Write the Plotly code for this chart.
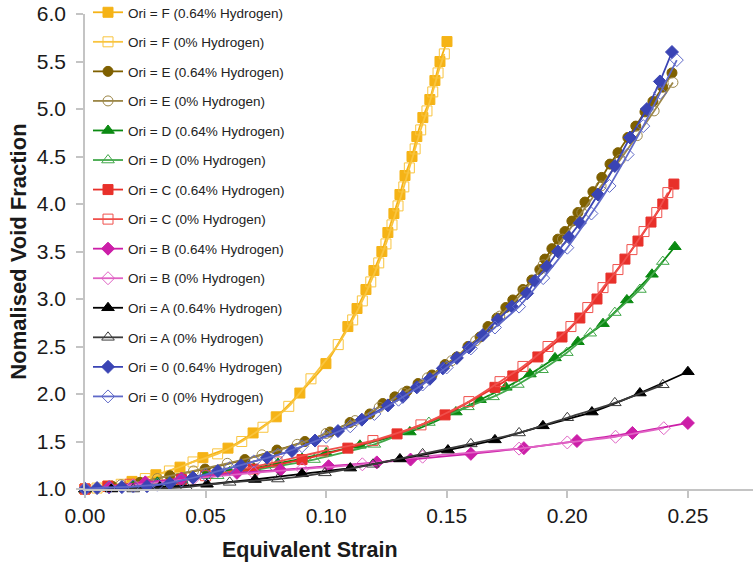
import plotly.graph_objects as go

# ---- data: equivalent strain vs normalised void fraction ----
f_h_x = [0, 0.0095, 0.0195, 0.0294, 0.0394, 0.0489, 0.0593, 0.0697, 0.0793, 0.0891, 0.0999, 0.109,
         0.1128, 0.1165, 0.1198, 0.1231, 0.1256, 0.1281, 0.1306, 0.1327, 0.1356, 0.1376, 0.1401,
         0.143, 0.1451, 0.1472, 0.1501]
f_h_y = [1.0, 1.03, 1.08, 1.15, 1.23, 1.33, 1.43, 1.59, 1.76, 2.01, 2.32, 2.71,
         2.9, 3.1, 3.3, 3.5, 3.7, 3.9, 4.1, 4.3, 4.5, 4.71, 4.91, 5.1, 5.3, 5.5, 5.71]
f_0_x = [0, 0.005, 0.015, 0.025, 0.035, 0.0448, 0.055, 0.065, 0.0738, 0.0845, 0.0937, 0.105, 0.111,
         0.115, 0.1185, 0.1218, 0.1248, 0.1273, 0.1298, 0.1322, 0.1345, 0.1369, 0.1392, 0.1418,
         0.1442, 0.1464, 0.149]
f_0_y = [1.0, 1.01, 1.05, 1.11, 1.19, 1.285, 1.37, 1.5, 1.65, 1.87, 2.16, 2.52, 2.78,
         2.98, 3.18, 3.38, 3.58, 3.78, 3.98, 4.18, 4.38, 4.58, 4.78, 4.98, 5.18, 5.38, 5.58]

e_h_x = [0, 0.0112, 0.0228, 0.0352, 0.0498, 0.0663, 0.0796, 0.0912, 0.1016, 0.1099, 0.1181, 0.1235,
         0.1285, 0.1335, 0.1381, 0.1439, 0.1493, 0.1542, 0.1588, 0.1638, 0.1671, 0.1708, 0.1745,
         0.1774, 0.1816, 0.1853, 0.1886, 0.1907, 0.1936, 0.1961, 0.199, 0.2019, 0.2044, 0.2073,
         0.2106, 0.2143, 0.2177, 0.221, 0.2251, 0.2284, 0.2322, 0.2355, 0.2396, 0.2434]
e_h_y = [1.0, 1.03, 1.07, 1.14, 1.21, 1.31, 1.41, 1.5, 1.6, 1.7, 1.79, 1.9,
         1.97, 2.03, 2.11, 2.2, 2.31, 2.39, 2.5, 2.6, 2.71, 2.8, 2.91,
         2.99, 3.1, 3.2, 3.31, 3.42, 3.53, 3.63, 3.71, 3.82, 3.91, 4.02,
         4.13, 4.28, 4.42, 4.54, 4.7, 4.82, 4.97, 5.08, 5.23, 5.38]
e_0_x = [0, 0.015, 0.03, 0.045, 0.059, 0.0734, 0.088, 0.1, 0.112, 0.122, 0.132, 0.142, 0.152,
         0.162, 0.172, 0.182, 0.19, 0.198, 0.206, 0.214, 0.222, 0.229, 0.236, 0.2438]
e_0_y = [1.0, 1.045, 1.11, 1.19, 1.27, 1.36, 1.47, 1.585, 1.72, 1.86, 2.01, 2.17, 2.35,
         2.56, 2.82, 3.08, 3.36, 3.63, 3.91, 4.19, 4.47, 4.72, 4.98, 5.28]

d_h_x = [0, 0.01, 0.02, 0.03, 0.04, 0.05, 0.06, 0.07, 0.08, 0.09, 0.1, 0.114, 0.1347, 0.1538,
         0.1638, 0.1745, 0.1845, 0.1949, 0.2044, 0.2148, 0.2247, 0.2351, 0.2446]
d_h_y = [1.0, 1.02, 1.04, 1.07, 1.1, 1.14, 1.18, 1.22, 1.27, 1.32, 1.38, 1.46, 1.6, 1.81,
         1.94, 2.07, 2.21, 2.38, 2.55, 2.74, 2.99, 3.26, 3.55]
d_0_x = [0, 0.015, 0.035, 0.055, 0.075, 0.095, 0.12, 0.1426, 0.1588, 0.1692, 0.1795, 0.1895,
         0.1998, 0.2095, 0.2197, 0.2301, 0.2396]
d_0_y = [1.0, 1.02, 1.07, 1.14, 1.22, 1.31, 1.47, 1.7, 1.865, 1.97, 2.1, 2.255,
         2.435, 2.64, 2.857, 3.1, 3.394]

c_h_x = [0, 0.0095, 0.04, 0.0697, 0.09, 0.109, 0.1294, 0.1493, 0.17, 0.1774, 0.1878, 0.1978,
         0.2052, 0.2123, 0.2181, 0.2239, 0.2293, 0.2347, 0.2396, 0.2442]
c_h_y = [1.0, 1.03, 1.1, 1.21, 1.31, 1.43, 1.58, 1.78, 2.07, 2.19, 2.39, 2.6,
         2.8, 3.0, 3.22, 3.42, 3.61, 3.81, 4.0, 4.21]
c_0_x = [0, 0.0187, 0.05, 0.0796, 0.0987, 0.1194, 0.1393, 0.1592, 0.1721, 0.1816, 0.192, 0.2015,
         0.2085, 0.2148, 0.221, 0.2268, 0.2318, 0.2371, 0.2417]
c_0_y = [1.0, 1.05, 1.14, 1.285, 1.4, 1.51, 1.675, 1.92, 2.13, 2.29, 2.5, 2.71,
         2.91, 3.12, 3.31, 3.52, 3.71, 3.91, 4.12]

b_h_x = [0, 0.01, 0.025, 0.04, 0.063, 0.081, 0.101, 0.121, 0.135, 0.16, 0.182, 0.204, 0.227, 0.25]
b_h_y = [1.0, 1.02, 1.07, 1.11, 1.17, 1.2, 1.24, 1.28, 1.31, 1.37, 1.43, 1.505, 1.59, 1.695]
b_0_x = [0, 0.02, 0.045, 0.07, 0.09, 0.115, 0.14, 0.18, 0.2, 0.22, 0.24]
b_0_y = [1.0, 1.04, 1.11, 1.17, 1.21, 1.26, 1.34, 1.425, 1.49, 1.55, 1.64]

a_h_x = [0, 0.011, 0.031, 0.0506, 0.0705, 0.09, 0.11, 0.1306, 0.1505, 0.17, 0.1899, 0.2102, 0.2301, 0.25]
a_h_y = [1.0, 1.0, 1.02, 1.05, 1.1, 1.16, 1.22, 1.316, 1.41, 1.517, 1.665, 1.81, 2.01, 2.234]
a_0_x = [0, 0.02, 0.042, 0.06, 0.08, 0.0995, 0.1194, 0.14, 0.16, 0.18, 0.2, 0.2197, 0.2396]
a_0_y = [1.0, 1.0, 1.02, 1.07, 1.105, 1.17, 1.26, 1.37, 1.475, 1.59, 1.75, 1.907, 2.097]

o_h_x = [0, 0.005, 0.0153, 0.0257, 0.0352, 0.0448, 0.0551, 0.0647, 0.0755, 0.0858, 0.0954, 0.1049,
         0.1148, 0.1256, 0.1318, 0.1376, 0.143, 0.1484, 0.1542, 0.1592, 0.165, 0.1712, 0.177,
         0.1833, 0.1866, 0.1915, 0.1961, 0.2007, 0.2052, 0.2127, 0.2197, 0.226, 0.233, 0.2384, 0.2434]
o_h_y = [1.0, 1.01, 1.02, 1.03, 1.06, 1.12, 1.19, 1.25, 1.33, 1.4, 1.51, 1.61,
         1.73, 1.88, 1.97, 2.07, 2.16, 2.27, 2.38, 2.49, 2.62, 2.78, 2.92,
         3.06, 3.19, 3.34, 3.5, 3.65, 3.8, 4.1, 4.4, 4.7, 5.0, 5.29, 5.6]
o_0_x = [0, 0.01, 0.02, 0.03, 0.04, 0.05, 0.06, 0.07, 0.08, 0.09, 0.1, 0.11, 0.12, 0.13, 0.14,
         0.15, 0.16, 0.17, 0.18, 0.19, 0.2, 0.21, 0.2175, 0.225, 0.2315, 0.2385, 0.2454]
o_0_y = [1.0, 1.016, 1.026, 1.045, 1.09, 1.15, 1.22, 1.29, 1.36, 1.45, 1.55, 1.66, 1.79, 1.94, 2.1,
         2.28, 2.48, 2.7, 2.92, 3.22, 3.54, 3.9, 4.19, 4.52, 4.82, 5.17, 5.515]

series = [
    ("Ori = F (0.64% Hydrogen)", f_h_x, f_h_y, "#F5B316", "square", 10),
    ("Ori = F (0% Hydrogen)", f_0_x, f_0_y, "#F9C43E", "square-open", 10),
    ("Ori = E (0.64% Hydrogen)", e_h_x, e_h_y, "#7F6000", "circle", 10),
    ("Ori = E (0% Hydrogen)", e_0_x, e_0_y, "#9C8748", "circle-open", 10),
    ("Ori = D (0.64% Hydrogen)", d_h_x, d_h_y, "#0B8A12", "triangle-up", 11),
    ("Ori = D (0% Hydrogen)", d_0_x, d_0_y, "#42A84A", "triangle-up-open", 11),
    ("Ori = C (0.64% Hydrogen)", c_h_x, c_h_y, "#E8302A", "square", 10),
    ("Ori = C (0% Hydrogen)", c_0_x, c_0_y, "#F0504C", "square-open", 10),
    ("Ori = B (0.64% Hydrogen)", b_h_x, b_h_y, "#CC1EA8", "diamond", 10),
    ("Ori = B (0% Hydrogen)", b_0_x, b_0_y, "#E062C4", "diamond-open", 10),
    ("Ori = A (0.64% Hydrogen)", a_h_x, a_h_y, "#000000", "triangle-up", 11),
    ("Ori = A (0% Hydrogen)", a_0_x, a_0_y, "#3C3C3C", "triangle-up-open", 11),
    ("Ori = 0 (0.64% Hydrogen)", o_h_x, o_h_y, "#3A44B4", "diamond", 10),
    ("Ori = 0 (0% Hydrogen)", o_0_x, o_0_y, "#5F69C8", "diamond-open", 10),
]

fig = go.Figure()
for i, (name, xs, ys, color, symbol, size) in enumerate(series):
    fig.add_trace(go.Scatter(
        x=xs, y=ys, name=name, mode="lines+markers", legendgroup=f"g{i}",
        line=dict(color=color, width=1.8, shape="spline", smoothing=0.6),
        marker=dict(symbol=symbol, size=size, color=color,
                    line=dict(color=color, width=1)),
        cliponaxis=False,
    ))

axis_grey = "#C4C4C4"
fig.update_layout(
    width=753, height=567,
    margin=dict(l=85, r=0, t=14, b=78, autoexpand=False),
    paper_bgcolor="white", plot_bgcolor="white",
    font=dict(family="Liberation Sans, Arial, sans-serif", color="#1a1a1a"),
    showlegend=True,
    legend=dict(
        x=0.0045, y=1.0358, xanchor="left", yanchor="top",
        bgcolor="rgba(0,0,0,0)", font=dict(size=13.5, color="#222222"),
        tracegroupgap=9, itemwidth=30, maxheight=540,
    ),
    xaxis=dict(
        range=[0, 0.277], tickvals=[0, 0.05, 0.1, 0.15, 0.2, 0.25], tickformat=".2f",
        showgrid=False, zeroline=False, showline=True, linecolor=axis_grey, linewidth=1.5,
        ticks="outside", ticklen=7, tickcolor=axis_grey, tickwidth=1.5,
        tickfont=dict(size=21, color="#1a1a1a"),
    ),
    yaxis=dict(
        range=[1, 6], tickvals=[1, 1.5, 2, 2.5, 3, 3.5, 4, 4.5, 5, 5.5, 6], tickformat=".1f",
        showgrid=False, zeroline=False, showline=True, linecolor=axis_grey, linewidth=1.5,
        ticks="outside", ticklen=7, tickcolor=axis_grey, tickwidth=1.5,
        tickfont=dict(size=21, color="#1a1a1a"), ticklabelstandoff=6,
    ),
    annotations=[
        dict(text="<b>Equivalent Strain</b>", xref="paper", yref="paper",
             x=0.337, y=-0.128, xanchor="center", yanchor="middle", showarrow=False,
             font=dict(size=21.5, color="#1a1a1a")),
        dict(text="<b>Nomalised Void Fraction</b>", xref="paper", yref="paper",
             x=-0.1, y=0.5, xanchor="center", yanchor="middle", textangle=-90,
             showarrow=False, font=dict(size=22, color="#1a1a1a")),
    ],
)

fig.write_html("out.html")
